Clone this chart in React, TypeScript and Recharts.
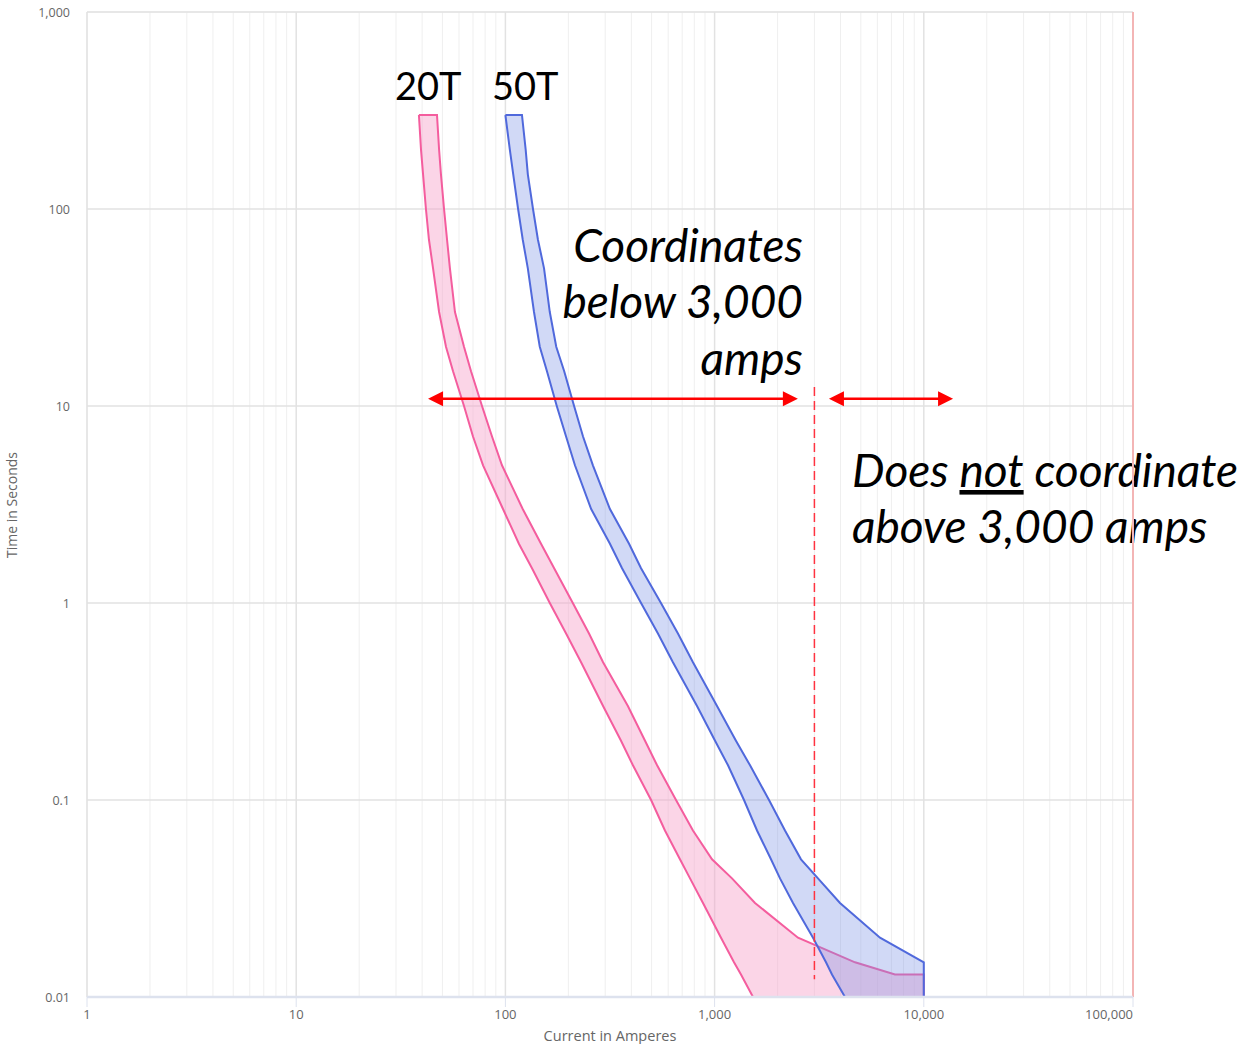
import React from 'react';
import {
  ComposedChart,
  Area,
  XAxis,
  YAxis,
  CartesianGrid,
  ReferenceLine,
  Customized,
} from 'recharts';

// Time (seconds) rows, top of the bands to bottom
const times = [300, 300, 200, 150, 100, 70, 50, 30, 20, 15, 10, 7, 5, 3, 2, 1.5, 1, 0.7, 0.5, 0.3, 0.2, 0.15, 0.1, 0.07, 0.05, 0.04, 0.03, 0.02, 0.015, 0.013, 0.013, 0.01, 0.01];

// 20T band: minimum / maximum current (A) at each time
const pinkMin = [38.6, 38.6, 39.5, 40.4, 41.7, 43.1, 45.1, 48.2, 52.0, 56.2, 63.4, 70.0, 78.2, 97.4, 116, 134, 163, 195, 230, 293, 357, 407, 497, 579, 683, 763, 880, 1073, 1238, 1337, 1337, 1526, 1526];
const pinkMax = [38.6, 47.1, 48.2, 49.2, 50.9, 52.6, 54.3, 57.4, 63.4, 68.5, 77.3, 86.3, 96.3, 121, 148, 171, 210, 251, 293, 385, 465, 531, 654, 788, 972, 1211, 1560, 2504, 4690, 7280, 10000, 10000, 1526];

// 50T band
const blueMin = [100, 100, 105, 109, 115, 121, 128, 137, 146, 158, 176, 195, 215, 257, 316, 361, 445, 536, 632, 824, 1005, 1159, 1382, 1595, 1860, 2054, 2370, 2954, 3408, 3640, 3640, 4200, 4200];
const blueMax = [100, 120, 125, 128, 135.5, 143, 153, 163, 175, 191, 213, 235, 262, 316, 390, 445, 554, 668, 788, 1027, 1265, 1477, 1820, 2170, 2588, 3120, 3975, 6175, 10000, 10000, 10000, 10000, 4200];

const xTicks = [1, 10, 100, 1000, 10000, 100000];
const yTicks = [0.01, 0.1, 1, 10, 100, 1000];
const minorMult = [2, 3, 4, 5, 6, 7, 8, 9];
const xMinor = [1, 10, 100, 1000, 10000].flatMap((d) => minorMult.map((m) => d * m));
const yMinor = [0.01, 0.1, 1, 10, 100].flatMap((d) => minorMult.map((m) => +(d * m).toPrecision(3)));

// annotation geometry in data units
const limitAmps = 3000;
const limitTimes = [12.5, 0.0123];
const arrowTime = 10.9;
const leftArrow = [42.7, 2500];
const rightArrow = [3520, 13800];

const data = times.map((t, i) => ({
  t,
  pink: [pinkMin[i], pinkMax[i]],
  blue: [blueMin[i], blueMax[i]],
}));

const fmt = (v: number) => v.toLocaleString('en-US');

const XTick = (props: any) => {
  const { x, y, payload } = props;
  const last = payload.value === 100000;
  return (
    <text x={x} y={y} dy="0.71em" textAnchor={last ? 'end' : 'middle'} fill="#666" fontSize={13} fontFamily="'Open Sans', sans-serif">
      {fmt(payload.value)}
    </text>
  );
};

const YTick = (props: any) => {
  const { x, y, payload } = props;
  return (
    <text x={x} y={y + 1} dy="0.355em" textAnchor="end" fill="#666" fontSize={12.5} fontFamily="'Open Sans', sans-serif">
      {fmt(payload.value)}
    </text>
  );
};

const ArrowShape = (props: any) => {
  const { x1, y1, x2 } = props;
  const a = Math.min(x1, x2);
  const b = Math.max(x1, x2);
  const y = y1;
  const L = 15;
  const W = 7.5;
  return (
    <g>
      <line x1={a + L - 2} y1={y} x2={b - L + 2} y2={y} stroke="#ff0000" strokeWidth={2.5} />
      <path d={`M${a},${y} L${a + L},${y - W} L${a + L},${y + W} Z`} fill="#ff0000" />
      <path d={`M${b},${y} L${b - L},${y - W} L${b - L},${y + W} Z`} fill="#ff0000" />
    </g>
  );
};

const Annotations = () => (
  <g>
    <text x={610} y={1041} textAnchor="middle" fontSize={14.5} fill="#666" fontFamily="'Open Sans', sans-serif">
      Current in Amperes
    </text>
    <text transform="translate(17,505) rotate(-90)" textAnchor="middle" fontSize={14} fill="#666" fontFamily="'Open Sans', sans-serif">
      Time in Seconds
    </text>
    <g fontFamily="Lato, 'Open Sans', sans-serif" fill="#000">
      <text x={395} y={100} fontSize={38}>20T</text>
      <text x={492} y={100} fontSize={38}>50T</text>
      <g fontStyle="italic" fontSize={46}>
        <text x={803} y={262} textAnchor="end">Coordinates</text>
        <text x={803} y={318} textAnchor="end">below 3,000</text>
        <text x={803} y={375} textAnchor="end">amps</text>
        <text x={852} y={487}>
          Does <tspan style={{ textDecoration: 'underline' }}>not</tspan> coordinate
        </text>
        <text x={852} y={543}>above 3,000 amps</text>
      </g>
    </g>
  </g>
);

export default function App() {
  return (
    <div style={{ position: 'absolute', left: 0, top: 0, width: 1243, height: 1044 }}>
      <ComposedChart
        width={1243}
        height={1044}
        data={data}
        layout="vertical"
        margin={{ top: 12, right: 110, bottom: 17, left: 27 }}
      >
        <XAxis xAxisId="minor" type="number" scale="log" domain={[1, 100000]} ticks={xMinor} interval={0} allowDataOverflow hide />
        <YAxis yAxisId="minor" type="number" scale="log" domain={[0.01, 1000]} ticks={yMinor} interval={0} allowDataOverflow reversed hide />
        <CartesianGrid xAxisId="minor" yAxisId="minor" stroke="#efefef" strokeWidth={1} />
        <CartesianGrid stroke="#e2e2e2" strokeWidth={1.5} />
        <XAxis
          type="number"
          scale="log"
          domain={[1, 100000]}
          ticks={xTicks}
          interval={0}
          allowDataOverflow
          height={30}
          tick={<XTick />}
          tickSize={10}
          tickMargin={3}
          tickLine={{ stroke: '#dde2ee' }}
          axisLine={{ stroke: '#dde2ee', strokeWidth: 2.5 }}
        />
        <YAxis
          dataKey="t"
          type="number"
          scale="log"
          domain={[0.01, 1000]}
          ticks={yTicks}
          interval={0}
          allowDataOverflow
          reversed
          width={60}
          tick={<YTick />}
          tickSize={6}
          tickMargin={11}
          tickLine={false}
          axisLine={false}
        />
        <Area
          dataKey="pink"
          type="linear"
          fill="#f7a1c9"
          fillOpacity={0.45}
          stroke="#f45d9e"
          strokeWidth={2}
          dot={false}
          activeDot={false}
          isAnimationActive={false}
        />
        <Area
          dataKey="blue"
          type="linear"
          fill="#7b91e6"
          fillOpacity={0.35}
          stroke="#5069dc"
          strokeWidth={2}
          dot={false}
          activeDot={false}
          isAnimationActive={false}
        />
        <ReferenceLine x={100000} stroke="#f3b5b5" strokeWidth={2} />
        <ReferenceLine
          segment={[{ x: limitAmps, y: limitTimes[0] }, { x: limitAmps, y: limitTimes[1] }]}
          stroke="#ff3340"
          strokeWidth={1.5}
          strokeDasharray="9 5"
        />
        <ReferenceLine segment={[{ x: leftArrow[0], y: arrowTime }, { x: leftArrow[1], y: arrowTime }]} shape={ArrowShape} />
        <ReferenceLine segment={[{ x: rightArrow[0], y: arrowTime }, { x: rightArrow[1], y: arrowTime }]} shape={ArrowShape} />
        <Customized component={Annotations} />
      </ComposedChart>
    </div>
  );
}
